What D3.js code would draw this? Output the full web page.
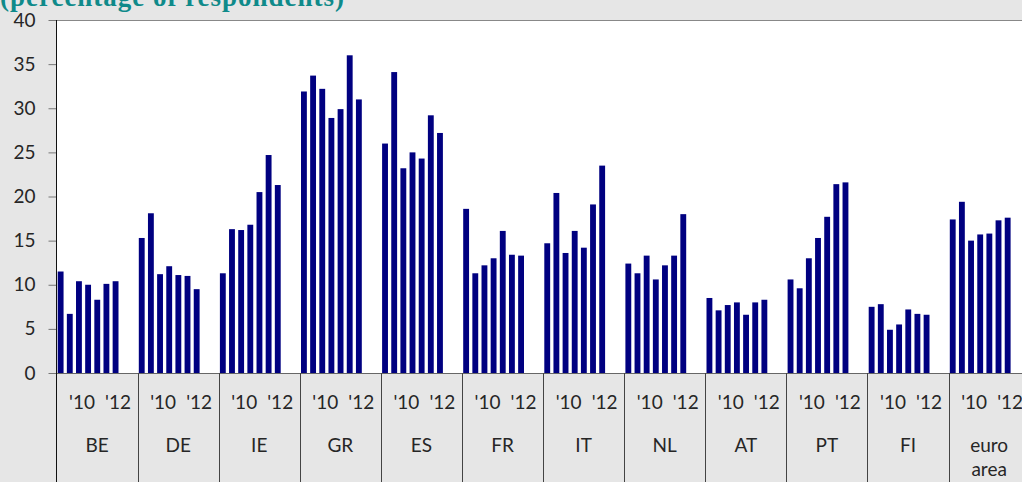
<!DOCTYPE html>
<html>
<head>
<meta charset="utf-8">
<script src="https://cdn.jsdelivr.net/npm/d3@7"></script>
<style>
  html, body { margin: 0; padding: 0; background: #e6e6e6; }
  svg { display: block; }
  .tick text { font-family: Lato, "Open Sans", sans-serif; fill: #262626; }
</style>
</head>
<body>
<div id="body"></div>
<script>
// countries along the x axis, seven half-year surveys each
const countries = ['BE', 'DE', 'IE', 'GR', 'ES', 'FR', 'IT', 'NL', 'AT', 'PT', 'FI', 'euro area'];
const periods = ['09a', '09b', '10a', '10b', '11a', '11b', '12a'];
const yearTicks = ["'10", "'12"];
const yTicks = [0, 5, 10, 15, 20, 25, 30, 35, 40];

const BE = [11.5, 6.7, 10.4, 10.0, 8.3, 10.1, 10.4];
const DE = [15.3, 18.1, 11.2, 12.1, 11.1, 11.0, 9.5];
const IE = [11.3, 16.3, 16.2, 16.8, 20.5, 24.7, 21.3];
const GR = [31.9, 33.7, 32.2, 28.9, 29.9, 36.0, 31.0];
const ES = [26.0, 34.1, 23.2, 25.0, 24.3, 29.2, 27.2];
const FR = [18.6, 11.3, 12.2, 13.0, 16.1, 13.4, 13.3];
const IT = [14.7, 20.4, 13.6, 16.1, 14.2, 19.1, 23.5];
const NL = [12.4, 11.3, 13.3, 10.6, 12.2, 13.3, 18.0];
const AT = [8.5, 7.1, 7.7, 8.0, 6.6, 8.0, 8.3];
const PT = [10.6, 9.6, 13.0, 15.3, 17.7, 21.4, 21.6];
const FI = [7.5, 7.8, 4.9, 5.5, 7.2, 6.7, 6.6];
const EA = [17.4, 19.4, 15.0, 15.7, 15.8, 17.3, 17.6];
const values = [BE, DE, IE, GR, ES, FR, IT, NL, AT, PT, FI, EA];

const width = 1022, height = 482;
const margins = {left: 56.5, top: 20, bottom: 109};
const groupW = 81.1;
const plotBottom = height - margins.bottom;

const svg = d3.select('#body').append('svg')
    .attr('width', width)
    .attr('height', height);

svg.append('rect')
    .attr('width', width).attr('height', height)
    .attr('fill', '#e6e6e6');

// title, mostly cut off above the picture
svg.append('text')
    .attr('x', 0)
    .attr('y', 6)
    .attr('font-family', '"Liberation Serif", serif')
    .attr('font-weight', 'bold')
    .attr('font-size', 27)
    .attr('fill', '#0f8a8a')
    .attr('textLength', 344)
    .text('(percentage of respondents)');

const x0 = d3.scaleBand()
    .domain(countries)
    .range([margins.left, margins.left + groupW * countries.length]);
const x1 = d3.scaleBand()
    .domain(periods)
    .range([1.2, 62])
    .paddingInner(0.36);
const y = d3.scaleLinear()
    .domain([0, 40])
    .range([plotBottom, margins.top]);

// white plot area
svg.append('rect')
    .attr('x', margins.left)
    .attr('y', margins.top)
    .attr('width', width - margins.left)
    .attr('height', plotBottom - margins.top)
    .attr('fill', '#fff');

svg.append('line')
    .attr('x1', margins.left).attr('x2', width)
    .attr('y1', margins.top + 0.5).attr('y2', margins.top + 0.5)
    .attr('stroke', '#888');

// bars
const groups = svg.selectAll('g.group')
    .data(countries)
    .enter()
    .append('g')
    .attr('class', 'group')
    .attr('transform', d => `translate(${x0(d)},0)`);

groups.selectAll('rect')
    .data((d, i) => values[i].map((v, j) => ({period: periods[j], value: v})))
    .enter()
    .append('rect')
    .attr('x', d => x1(d.period))
    .attr('y', d => y(d.value))
    .attr('width', x1.bandwidth())
    .attr('height', d => y(0) - y(d.value))
    .attr('fill', '#000080');

// y axis
const yAxis = svg.append('g')
    .attr('transform', `translate(${margins.left},0)`)
    .call(d3.axisLeft(y).tickValues(yTicks).tickSize(8).tickPadding(13));
yAxis.select('.domain').remove();
yAxis.selectAll('.tick line').attr('stroke', '#777');
yAxis.selectAll('.tick text').attr('font-size', 19);

// x axis line and category separators
svg.append('line')
    .attr('x1', margins.left).attr('x2', width)
    .attr('y1', plotBottom + 0.5).attr('y2', plotBottom + 0.5)
    .attr('stroke', '#666');

svg.append('line')
    .attr('x1', margins.left).attr('x2', margins.left)
    .attr('y1', margins.top).attr('y2', height)
    .attr('stroke', '#111');

svg.selectAll('line.sep')
    .data(countries.slice(1))
    .enter()
    .append('line')
    .attr('class', 'sep')
    .attr('x1', d => Math.round(x0(d)) + 0.5)
    .attr('x2', d => Math.round(x0(d)) + 0.5)
    .attr('y1', plotBottom)
    .attr('y2', height)
    .attr('stroke', '#444');

// year labels under each group
const yearPos = [25.5, 61.5];
groups.selectAll('text.year')
    .data(yearTicks)
    .enter()
    .append('text')
    .attr('class', 'year')
    .attr('x', (d, i) => yearPos[i])
    .attr('y', 409)
    .attr('text-anchor', 'middle')
    .attr('font-family', 'Lato, "Open Sans", sans-serif')
    .attr('font-size', 19)
    .attr('fill', '#262626')
    .text(d => d);

// country labels
groups.append('text')
    .attr('x', x0.bandwidth() / 2)
    .attr('y', 452)
    .attr('text-anchor', 'middle')
    .attr('font-family', 'Lato, "Open Sans", sans-serif')
    .attr('font-size', 19)
    .attr('fill', '#262626')
    .selectAll('tspan')
    .data(d => d.split(' '))
    .enter()
    .append('tspan')
    .attr('x', x0.bandwidth() / 2)
    .attr('dy', (d, i) => i ? 24 : 0)
    .text(d => d);
</script>
</body>
</html>
